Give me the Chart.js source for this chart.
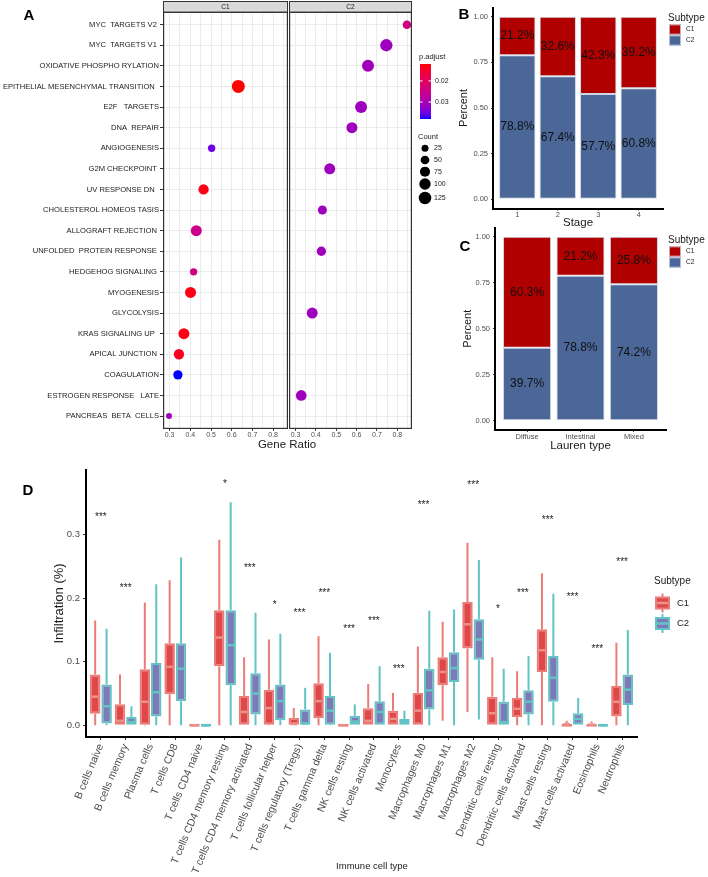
<!DOCTYPE html>
<html>
<head>
<meta charset="utf-8">
<script src="https://cdn.jsdelivr.net/npm/chart.js@4.4.1/dist/chart.umd.min.js"></script>
<style>
  body { margin: 0; background: #fff; }
  #page { position: relative; width: 708px; height: 877px; overflow: hidden; font-family: "Liberation Sans", Arial, sans-serif; }
  #page canvas { position: absolute; left: 0; top: 0; }
  .lbl { position: absolute; transform: translate(-50%, -50%); white-space: nowrap; color: #1a1a1a; }
  .panel { font-weight: bold; font-size: 15px; color: #000; }
</style>
</head>
<body>
<div id="page">
  <canvas id="dot-c1" width="708" height="877"></canvas>
  <canvas id="dot-c2" width="708" height="877"></canvas>
  <canvas id="stage-bar" width="708" height="877"></canvas>
  <canvas id="lauren-bar" width="708" height="877"></canvas>
  <canvas id="immune-box" width="708" height="877"></canvas>
  <div class="lbl panel" style="left:29px;top:14px">A</div>
  <div class="lbl panel" style="left:464px;top:13px">B</div>
  <div class="lbl panel" style="left:465px;top:245px">C</div>
  <div class="lbl panel" style="left:28px;top:489px">D</div>
  <div class="lbl" style="left:287px;top:443.5px;font-size:11.5px">Gene Ratio</div>
  <div class="lbl" style="left:372px;top:865px;font-size:9.5px">Immune cell type</div>
</div>
<script>
// ---- panel A: enrichment dot plot ----
const pathways = [
  'MYC  TARGETS V2 ', 'MYC  TARGETS V1 ', 'OXIDATIVE PHOSPHO RYLATION',
  'EPITHELIAL MESENCHYMAL TRANSITION  ', 'E2F   TARGETS', 'DNA  REPAIR', 'ANGIOGENESIS',
  'G2M CHECKPOINT ', 'UV RESPONSE DN  ', 'CHOLESTEROL HOMEOS TASIS', 'ALLOGRAFT REJECTION ',
  'UNFOLDED  PROTEIN RESPONSE ', 'HEDGEHOG SIGNALING ', 'MYOGENESIS', 'GLYCOLYSIS',
  'KRAS SIGNALING UP  ', 'APICAL JUNCTION ', 'COAGULATION', 'ESTROGEN RESPONSE   LATE',
  'PANCREAS  BETA  CELLS',
];
const ratioTicks = [0.3, 0.35, 0.4, 0.45, 0.5, 0.55, 0.6, 0.65, 0.7, 0.75, 0.8, 0.85];
const c1Rows = [3, 6, 8, 10, 12, 13, 15, 16, 17, 19];
const c1Ratio = [0.632, 0.503, 0.464, 0.429, 0.416, 0.401, 0.369, 0.345, 0.340, 0.297];
const c1Count = [137, 29, 78, 92, 29, 92, 92, 78, 60, 13];
const c1Padj = [0.012, 0.035, 0.013, 0.025, 0.024, 0.013, 0.013, 0.014, 0.038, 0.031];
const c2Rows = [0, 1, 2, 4, 5, 7, 9, 11, 14, 18];
const c2Ratio = [0.847, 0.746, 0.656, 0.622, 0.577, 0.468, 0.432, 0.427, 0.382, 0.328];
const c2Count = [47, 120, 114, 114, 92, 92, 55, 60, 92, 86];
const c2Padj = [0.024, 0.031, 0.031, 0.031, 0.031, 0.031, 0.031, 0.031, 0.031, 0.031];
const padjTicks = [0.02, 0.03];
const countTicks = [25, 50, 75, 100, 125];

// ---- panels B and C: subtype proportions ----
const stageLabels = ['1', '2', '3', '4'];
const stageC1 = [21.2, 32.6, 42.3, 39.2];
const stageC2 = [78.8, 67.4, 57.7, 60.8];
const laurenLabels = ['Diffuse', 'Intestinal', 'Mixed'];
const laurenC1 = [60.3, 21.2, 25.8];
const laurenC2 = [39.7, 78.8, 74.2];
const percentTicks = [0, 0.25, 0.5, 0.75, 1];

// ---- panel D: immune infiltration boxes ----
const cellTypes = [
  'B cells naive', 'B cells memory', 'Plasma cells', 'T cells CD8', 'T cells CD4 naive',
  'T cells CD4 memory resting', 'T cells CD4 memory activated', 'T cells follicular helper',
  'T cells regulatory (Tregs)', 'T cells gamma delta', 'NK cells resting', 'NK cells activated',
  'Monocytes', 'Macrophages M0', 'Macrophages M1', 'Macrophages M2', 'Dendritic cells resting',
  'Dendritic cells activated', 'Mast cells resting', 'Mast cells activated', 'Eosinophils', 'Neutrophils',
];
const c1Min = [0, 0, 0, 0, 0, 0, 0, 0, 0, 0, 0, 0, 0, 0, 0.007, 0.021, 0, 0, 0, 0, 0, 0];
const c1Q1 = [0.018, 0, 0.001, 0.049, 0, 0.093, 0, 0.001, 0, 0.011, 0, 0, 0, 0, 0.063, 0.121, 0, 0.013, 0.084, 0, 0, 0.014];
const c1Median = [0.045, 0.007, 0.037, 0.092, 0, 0.138, 0.021, 0.027, 0.002, 0.038, 0, 0.007, 0.010, 0.023, 0.084, 0.159, 0.019, 0.026, 0.118, 0.002, 0.001, 0.037];
const c1Q3 = [0.080, 0.033, 0.088, 0.129, 0, 0.181, 0.046, 0.056, 0.012, 0.066, 0, 0.027, 0.023, 0.051, 0.107, 0.194, 0.045, 0.043, 0.151, 0.004, 0.003, 0.062];
const c1Max = [0.165, 0.080, 0.193, 0.228, 0, 0.292, 0.107, 0.135, 0.027, 0.140, 0, 0.065, 0.051, 0.124, 0.163, 0.287, 0.107, 0.085, 0.239, 0.007, 0.006, 0.130];
const c2Min = [0, 0, 0, 0, 0, 0, 0, 0, 0, 0, 0, 0, 0, 0, 0, 0.009, 0, 0, 0, 0, 0, 0];
const c2Q1 = [0.003, 0, 0.014, 0.038, 0, 0.063, 0.017, 0.008, 0, 0.001, 0, 0, 0, 0.025, 0.068, 0.103, 0, 0.017, 0.037, 0, 0, 0.032];
const c2Median = [0.030, 0.005, 0.052, 0.089, 0, 0.126, 0.050, 0.038, 0.003, 0.023, 0.006, 0.021, 0.005, 0.055, 0.090, 0.135, 0.005, 0.037, 0.075, 0.010, 0, 0.056];
const c2Q3 = [0.064, 0.013, 0.098, 0.129, 0, 0.181, 0.082, 0.064, 0.025, 0.046, 0.015, 0.038, 0.010, 0.089, 0.115, 0.167, 0.037, 0.055, 0.109, 0.019, 0, 0.080];
const c2Max = [0.152, 0.030, 0.222, 0.264, 0, 0.351, 0.177, 0.144, 0.059, 0.114, 0.033, 0.093, 0.023, 0.180, 0.182, 0.260, 0.089, 0.109, 0.207, 0.043, 0.001, 0.150];
const sigMarks = ['***', '***', '', '', '', '*', '***', '*', '***', '***', '***', '***', '***', '***', '', '***', '*', '***', '***', '***', '***', '***'];
const sigHeight = [0.331, 0.218, 0, 0, 0, 0.383, 0.250, 0.192, 0.180, 0.211, 0.155, 0.167, 0.091, 0.349, 0, 0.381, 0.185, 0.211, 0.325, 0.204, 0.122, 0.259];
const infilTicks = [0, 0.1, 0.2, 0.3];

const FONT = '"Liberation Sans", Arial, sans-serif';
Chart.defaults.font.family = FONT;
Chart.defaults.animation = false;
Chart.defaults.responsive = false;
Chart.defaults.events = [];
Chart.defaults.plugins.legend.display = false;
Chart.defaults.plugins.tooltip.enabled = false;

// ggplot-like red -> blue gradient, interpolated in Lab
function toLin(c) { c /= 255; return c <= 0.04045 ? c / 12.92 : Math.pow((c + 0.055) / 1.055, 2.4); }
function fromLin(c) {
  c = c <= 0.0031308 ? 12.92 * c : 1.055 * Math.pow(Math.max(c, 0), 1 / 2.4) - 0.055;
  return Math.round(Math.max(0, Math.min(1, c)) * 255);
}
function rgbToLab(rgb) {
  const [r, g, b] = rgb.map(toLin);
  const x = (0.4124 * r + 0.3576 * g + 0.1805 * b) / 0.95047;
  const y = 0.2126 * r + 0.7152 * g + 0.0722 * b;
  const z = (0.0193 * r + 0.1192 * g + 0.9505 * b) / 1.08883;
  const f = (t) => (t > 0.008856 ? Math.cbrt(t) : 7.787 * t + 16 / 116);
  return [116 * f(y) - 16, 500 * (f(x) - f(y)), 200 * (f(y) - f(z))];
}
function labToRgb([L, a, bb]) {
  const fy = (L + 16) / 116;
  const fx = fy + a / 500;
  const fz = fy - bb / 200;
  const inv = (t) => (t * t * t > 0.008856 ? t * t * t : (t - 16 / 116) / 7.787);
  const x = 0.95047 * inv(fx), y = inv(fy), z = 1.08883 * inv(fz);
  return [
    fromLin(3.2406 * x - 1.5372 * y - 0.4986 * z),
    fromLin(-0.9689 * x + 1.8758 * y + 0.0415 * z),
    fromLin(0.0557 * x - 0.2040 * y + 1.0570 * z),
  ];
}
const LOW_LAB = rgbToLab([255, 0, 0]);
const HIGH_LAB = rgbToLab([0, 0, 255]);
const padjMin = Math.min(...c1Padj, ...c2Padj);
const padjMax = Math.max(...c1Padj, ...c2Padj);
function padjColor(p) {
  const t = Math.max(0, Math.min(1, (p - padjMin) / (padjMax - padjMin)));
  const rgb = labToRgb(LOW_LAB.map((v, k) => v + (HIGH_LAB[k] - v) * t));
  return `rgb(${rgb.join(',')})`;
}
function dotRadius(count) {
  return Math.sqrt(49 + (count - 25) * 1.07) / 2;
}
function isMajor(v) {
  return Math.abs(v * 10 - Math.round(v * 10)) < 1e-6;
}

function facetFrame(name) {
  return {
    id: 'facetFrame',
    afterDraw(chart) {
      const { ctx, chartArea: a } = chart;
      ctx.save();
      ctx.fillStyle = '#d9d9d9';
      ctx.fillRect(a.left, 1.5, a.width, a.top - 1.5);
      ctx.strokeStyle = '#333';
      ctx.lineWidth = 1;
      ctx.strokeRect(a.left + 0.5, 1.5, a.width - 1, a.top - 1.5);
      ctx.lineWidth = 1.2;
      ctx.strokeRect(a.left + 0.6, a.top, a.width - 1.2, a.height);
      ctx.fillStyle = '#1a1a1a';
      ctx.font = `6.5px ${FONT}`;
      ctx.textAlign = 'center';
      ctx.textBaseline = 'middle';
      ctx.fillText(name, (a.left + a.right) / 2, (a.top + 1.5) / 2 + 0.5);
      ctx.restore();
    },
  };
}

const dotLegend = {
  id: 'dotLegend',
  afterDraw(chart) {
    const { ctx } = chart;
    ctx.save();
    ctx.fillStyle = '#1a1a1a';
    ctx.font = `7.5px ${FONT}`;
    ctx.textAlign = 'left';
    ctx.textBaseline = 'middle';
    ctx.fillText('p.adjust', 419, 57);
    const top = 64, bottom = 119, left = 420, w = 11;
    const grad = ctx.createLinearGradient(0, top, 0, bottom);
    for (let k = 0; k <= 20; k++) {
      grad.addColorStop(k / 20, padjColor(padjMin + (k / 20) * (padjMax - padjMin)));
    }
    ctx.fillStyle = grad;
    ctx.fillRect(left, top, w, bottom - top);
    ctx.font = `7px ${FONT}`;
    padjTicks.forEach((v) => {
      const y = top + ((v - padjMin) / (padjMax - padjMin)) * (bottom - top);
      ctx.strokeStyle = '#fff';
      ctx.lineWidth = 1;
      ctx.beginPath();
      ctx.moveTo(left, y); ctx.lineTo(left + 2.5, y);
      ctx.moveTo(left + w - 2.5, y); ctx.lineTo(left + w, y);
      ctx.stroke();
      ctx.fillStyle = '#1a1a1a';
      ctx.fillText(v.toFixed(2), 435, y);
    });
    ctx.font = `7.5px ${FONT}`;
    ctx.fillText('Count', 418, 137);
    const rowsY = [148.3, 160, 171.7, 184, 198];
    ctx.font = `7px ${FONT}`;
    countTicks.forEach((c, i) => {
      ctx.fillStyle = '#000';
      ctx.beginPath();
      ctx.arc(425, rowsY[i], dotRadius(c), 0, Math.PI * 2);
      ctx.fill();
      ctx.fillStyle = '#1a1a1a';
      ctx.fillText(String(c), 434, rowsY[i]);
    });
    ctx.restore();
  },
};

function facetChart(id, name, rows, ratio, count, padj, padding, showLabels, extra) {
  return new Chart(document.getElementById(id), {
    type: 'bubble',
    data: {
      datasets: [{
        data: rows.map((row, i) => ({ x: ratio[i], y: row, r: dotRadius(count[i]) })),
        backgroundColor: padj.map(padjColor),
        borderWidth: 0,
      }],
    },
    options: {
      layout: { padding },
      clip: false,
      scales: {
        x: {
          type: 'linear', min: 0.268, max: 0.872,
          afterBuildTicks: (s) => { s.ticks = ratioTicks.map((v) => ({ value: v })); },
          afterFit: (s) => { s.height = 16.6; },
          border: { display: false },
          grid: {
            color: '#ebebeb', lineWidth: 1, tickLength: 2.5,
            tickColor: (c) => (c.tick && isMajor(c.tick.value) ? '#333' : 'rgba(0,0,0,0)'),
          },
          ticks: {
            autoSkip: false, maxRotation: 0, padding: 0, color: '#4d4d4d', font: { size: 7 },
            callback: (v) => (isMajor(v) ? v.toFixed(1) : ''),
          },
        },
        y: {
          type: 'linear', reverse: true, min: -0.6, max: pathways.length - 0.4,
          afterBuildTicks: (s) => { s.ticks = pathways.map((p, i) => ({ value: i })); },
          afterFit: (s) => { s.width = showLabels ? 163 : 0; },
          border: { display: false },
          grid: { color: '#ebebeb', lineWidth: 1, tickLength: 3, drawTicks: showLabels, tickColor: '#333' },
          ticks: {
            display: showLabels, autoSkip: false, padding: 1, color: '#1a1a1a', font: { size: 7.6 },
            callback: (v) => pathways[v],
          },
        },
      },
    },
    plugins: [facetFrame(name)].concat(extra),
  });
}

facetChart('dot-c1', 'C1', c1Rows, c1Ratio, c1Count, c1Padj,
  { left: 0, top: 12.3, right: 420, bottom: 877 - 445 }, true, []);
facetChart('dot-c2', 'C2', c2Rows, c2Ratio, c2Count, c2Padj,
  { left: 289, top: 12.3, right: 708 - 412, bottom: 877 - 445 }, false, [dotLegend]);

// ---- B / C ----
const C1_FILL = '#b00000';
const C2_FILL = '#4a6797';

const pctLabels = {
  id: 'pctLabels',
  afterDatasetsDraw(chart) {
    const { ctx } = chart;
    ctx.save();
    ctx.font = `12px ${FONT}`;
    ctx.fillStyle = '#111';
    ctx.textAlign = 'center';
    ctx.textBaseline = 'middle';
    chart.data.datasets.forEach((ds, d) => {
      chart.getDatasetMeta(d).data.forEach((el, i) => {
        ctx.fillText(ds.pct[i].toFixed(1) + '%', el.x, (el.y + el.base) / 2);
      });
    });
    ctx.restore();
  },
};

function subtypeKey(x, top) {
  return {
    id: 'subtypeKey',
    afterDraw(chart) {
      const { ctx } = chart;
      ctx.save();
      ctx.textAlign = 'left';
      ctx.textBaseline = 'middle';
      ctx.fillStyle = '#1a1a1a';
      ctx.font = `10px ${FONT}`;
      ctx.fillText('Subtype', x - 1, top);
      ctx.font = `6.5px ${FONT}`;
      [['C1', C1_FILL], ['C2', C2_FILL]].forEach(([name, fill], i) => {
        const y = top + 6.5 + i * 11;
        ctx.fillStyle = fill;
        ctx.fillRect(x, y, 12, 10);
        ctx.strokeStyle = '#cfd6e6';
        ctx.lineWidth = 0.8;
        ctx.strokeRect(x + 0.4, y + 0.4, 11.2, 9.2);
        ctx.fillStyle = '#1a1a1a';
        ctx.fillText(name, x + 17, y + 5);
      });
      ctx.restore();
    },
  };
}

function stackedChart(id, cats, c1, c2, o) {
  return new Chart(document.getElementById(id), {
    type: 'bar',
    data: {
      datasets: [
        { label: 'C2', pct: c2, backgroundColor: C2_FILL,
          data: cats.map((c, i) => ({ x: i, y: [0, c2[i] / 100] })) },
        { label: 'C1', pct: c1, backgroundColor: C1_FILL,
          data: cats.map((c, i) => ({ x: i, y: [c2[i] / 100, (c2[i] + c1[i]) / 100] })) },
      ],
    },
    options: {
      layout: { padding: o.padding },
      datasets: {
        bar: { grouped: false, categoryPercentage: 1, barPercentage: 0.9, borderColor: '#cfd6e6', borderWidth: 1, borderSkipped: false },
      },
      scales: {
        x: {
          type: 'linear', offset: false, min: -0.6, max: cats.length - 0.4,
          afterBuildTicks: (s) => { s.ticks = cats.map((c, i) => ({ value: i })); },
          afterFit: (s) => { s.height = o.xHeight; },
          border: { color: '#000', width: 2 },
          grid: { offset: false, drawOnChartArea: false, tickLength: 2, tickColor: '#333' },
          ticks: { autoSkip: false, maxRotation: 0, padding: 0, color: '#4d4d4d', font: { size: 7.5 }, callback: (v) => cats[v] },
          title: { display: true, text: o.xTitle, color: '#1a1a1a', font: { size: 11.5 }, padding: { top: 0, bottom: o.xTitlePad } },
        },
        y: {
          min: -0.05, max: 1.05,
          afterBuildTicks: (s) => { s.ticks = percentTicks.map((v) => ({ value: v })); },
          afterFit: (s) => { s.width = o.yWidth; },
          border: { color: '#000', width: 2 },
          grid: { drawOnChartArea: false, tickLength: 2, tickColor: '#333' },
          ticks: { padding: 3, color: '#4d4d4d', font: { size: 7.5 }, callback: (v) => v.toFixed(2) },
          title: { display: true, text: 'Percent', color: '#1a1a1a', font: { size: 11 }, padding: { top: o.yTitlePad, bottom: 0 } },
        },
      },
    },
    plugins: [pctLabels, subtypeKey(o.keyX, o.keyTop)],
  });
}

stackedChart('stage-bar', stageLabels, stageC1, stageC2, {
  padding: { left: 440, top: 5, right: 708 - 663, bottom: 877 - 208.5 - 21 },
  xHeight: 21, xTitle: 'Stage', xTitlePad: 0, yWidth: 53, yTitlePad: 17.4, keyX: 669, keyTop: 18,
});
stackedChart('lauren-bar', laurenLabels, laurenC1, laurenC2, {
  padding: { left: 440, top: 227.5, right: 708 - 666, bottom: 877 - 454 },
  xHeight: 24, xTitle: 'Lauren type', xTitlePad: 1, yWidth: 55, yTitlePad: 21.4, keyX: 669, keyTop: 240,
});

// ---- D ----
const boxStyle = [
  { fill: '#df4848', edge: '#ea7b77', median: '#eb928b', min: c1Min, med: c1Median, max: c1Max },
  { fill: '#7b7bb7', edge: '#62c3c5', median: '#62c3c5', min: c2Min, med: c2Median, max: c2Max },
];

const boxParts = {
  id: 'boxParts',
  beforeDatasetsDraw(chart) {
    const { ctx, scales: { y } } = chart;
    ctx.save();
    ctx.lineWidth = 2;
    boxStyle.forEach((st, d) => {
      const ds = chart.data.datasets[d];
      ctx.strokeStyle = st.edge;
      chart.getDatasetMeta(d).data.forEach((el, i) => {
        const [q1, q3] = ds.data[i].y;
        ctx.beginPath();
        ctx.moveTo(el.x, y.getPixelForValue(st.min[i]));
        ctx.lineTo(el.x, y.getPixelForValue(q1));
        ctx.moveTo(el.x, y.getPixelForValue(q3));
        ctx.lineTo(el.x, y.getPixelForValue(st.max[i]));
        ctx.stroke();
      });
    });
    ctx.restore();
  },
  afterDatasetsDraw(chart) {
    const { ctx, scales: { x, y } } = chart;
    ctx.save();
    ctx.lineWidth = 2.5;
    boxStyle.forEach((st, d) => {
      ctx.strokeStyle = st.median;
      chart.getDatasetMeta(d).data.forEach((el, i) => {
        const py = y.getPixelForValue(st.med[i]);
        ctx.beginPath();
        ctx.moveTo(el.x - el.width / 2 + 2, py);
        ctx.lineTo(el.x + el.width / 2 - 2, py);
        ctx.stroke();
      });
    });
    ctx.fillStyle = '#222';
    ctx.font = `10px ${FONT}`;
    ctx.textAlign = 'center';
    ctx.textBaseline = 'top';
    sigMarks.forEach((m, i) => {
      if (!m) return;
      ctx.fillText(m, x.getPixelForValue(i), y.getPixelForValue(sigHeight[i]) - 3);
    });
    // legend
    ctx.textAlign = 'left';
    ctx.textBaseline = 'middle';
    ctx.fillStyle = '#1a1a1a';
    ctx.font = `10px ${FONT}`;
    ctx.fillText('Subtype', 654, 581);
    ctx.font = `9.5px ${FONT}`;
    boxStyle.forEach((st, d) => {
      const cy = 603 + d * 20.5;
      ctx.strokeStyle = st.edge;
      ctx.lineWidth = 2;
      ctx.beginPath();
      ctx.moveTo(662.5, cy - 9.5); ctx.lineTo(662.5, cy + 9.5);
      ctx.stroke();
      ctx.fillStyle = st.edge;
      ctx.fillRect(655, cy - 6.5, 15, 13);
      ctx.fillStyle = st.fill;
      ctx.fillRect(657, cy - 4.5, 11, 9);
      ctx.strokeStyle = st.median;
      ctx.lineWidth = 2.5;
      ctx.beginPath();
      ctx.moveTo(657, cy); ctx.lineTo(668, cy);
      ctx.stroke();
      ctx.fillStyle = '#1a1a1a';
      ctx.fillText('C' + (d + 1), 677, cy);
    });
    ctx.restore();
  },
};

new Chart(document.getElementById('immune-box'), {
  type: 'bar',
  data: {
    datasets: boxStyle.map((st, d) => ({
      label: 'C' + (d + 1),
      data: cellTypes.map((c, i) => ({ x: i, y: d === 0 ? [c1Q1[i], c1Q3[i]] : [c2Q1[i], c2Q3[i]] })),
      backgroundColor: st.fill,
      borderColor: st.edge,
      borderWidth: 2,
      borderSkipped: false,
      minBarLength: 3,
      categoryPercentage: 0.92,
      barPercentage: 0.92,
    })),
  },
  options: {
    layout: { padding: { left: 0, top: 470, right: 708 - 637, bottom: 0 } },
    scales: {
      x: {
        type: 'linear', offset: false, min: -0.6, max: cellTypes.length - 0.4,
        afterBuildTicks: (s) => { s.ticks = cellTypes.map((c, i) => ({ value: i })); },
        afterFit: (s) => { s.height = 140; },
        border: { color: '#000', width: 2 },
        grid: { offset: false, drawOnChartArea: false, tickLength: 3, tickColor: '#333' },
        ticks: {
          autoSkip: false, minRotation: 67, maxRotation: 67, padding: 2, color: '#4d4d4d',
          font: { size: 10.5 }, callback: (v) => cellTypes[v],
        },
      },
      y: {
        min: -0.0184, max: 0.4016,
        afterBuildTicks: (s) => { s.ticks = infilTicks.map((v) => ({ value: v })); },
        afterFit: (s) => { s.width = 86; },
        border: { color: '#000', width: 2 },
        grid: { drawOnChartArea: false, tickLength: 3, tickColor: '#333' },
        ticks: { padding: 3, color: '#4d4d4d', font: { size: 9.5 }, callback: (v) => v.toFixed(1) },
        title: { display: true, text: 'Infiltration (%)', color: '#1a1a1a', font: { size: 13 }, padding: { top: 52, bottom: 0 } },
      },
    },
  },
  plugins: [boxParts],
});
</script>
</body>
</html>
